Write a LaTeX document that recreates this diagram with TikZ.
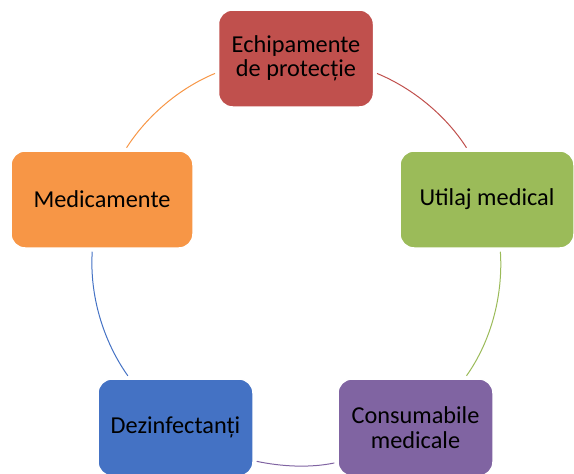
\documentclass[tikz,border=0pt]{standalone}
\usepackage{fontspec}
\setmainfont{Carlito}
\definecolor{epred}{HTML}{C0504D}
\definecolor{utgreen}{HTML}{9BBB59}
\definecolor{cspurple}{HTML}{8064A2}
\definecolor{dzblue}{HTML}{4472C4}
\definecolor{mdorange}{HTML}{F79646}
\begin{document}
\begin{tikzpicture}[x=1pt, y=1pt,
	box/.style={rounded corners=14pt, draw=white, line width=1.5pt, minimum height=97pt, align=center, font=\fontsize{24.3}{24.5}\selectfont},
	link/.style={line width=1pt, shorten <=3pt, shorten >=3pt}]
	\useasboundingbox (0,0) rectangle (574,-474);
	\node[box, fill=epred, minimum width=155pt] (ep) at (296,-58.5) {Echipamente\\de protecție};
	\node[box, fill=utgreen, minimum width=174pt] (ut) at (487,-199.5) {Utilaj medical};
	\node[box, fill=cspurple, minimum width=155pt] (cs) at (415.5,-427.5) {Consumabile\\medicale};
	\node[box, fill=dzblue, minimum width=155pt] (dz) at (175.5,-427.5) {Dezinfectanți};
	\node[box, fill=mdorange, minimum width=182pt] (md) at (102,-199.5) {Medicamente};
	\draw[link, epred] (ep.-10.2) to[out=-22.5, in=122.6, looseness=0.87] (ut.111.6);
	\draw[link, utgreen] (ut.-75.4) to[out=-86.35, in=54.7, looseness=0.88] (cs.45.96);
	\draw[link, cspurple] (cs.-156.9) to[out=191.9, in=-11.9, looseness=0.86] (dz.-23);
	\draw[link, dzblue] (dz.133.4) to[out=125.3, in=-93.65, looseness=0.88] (md.-101.2);
	\draw[link, mdorange] (md.65.4) to[out=57.4, in=202.5, looseness=0.87] (ep.190.2);
\end{tikzpicture}
\end{document}
